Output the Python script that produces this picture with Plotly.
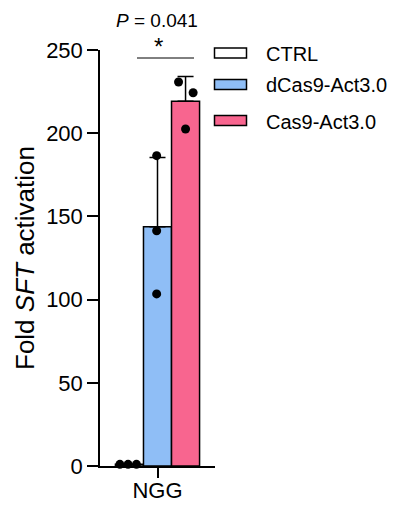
import numpy as np
import plotly.graph_objects as go

# ---- data ----
groups = ["CTRL", "dCas9-Act3.0", "Cas9-Act3.0"]
category = ["NGG"]
ctrl_reps = [1.0, 1.0, 1.0]
dcas9_reps = [186.5, 141.4, 103.4]
cas9_reps = [230.8, 224.3, 202.5]
p_label = "0.041"
y_ticks = [0, 50, 100, 150, 200, 250]

# ---- style ----
colors = ["#FFFFFF", "#8FBEF6", "#F8658F"]
jitter = [[-0.34, -0.05, 0.25], [-0.03, -0.03, -0.03], [-0.25, 0.27, 0.0]]
FONT = "Liberation Sans, Arial, sans-serif"

reps = [ctrl_reps, dcas9_reps, cas9_reps]
means = [float(np.mean(r)) for r in reps]
sds = [float(np.std(r, ddof=1)) for r in reps]
pos = list(np.arange(len(groups)) - (len(groups) - 1) / 2)

fig = go.Figure()
for i, g in enumerate(groups):
    fig.add_trace(go.Bar(
        x=[pos[i]], y=[means[i]], width=1.0, name=g,
        marker=dict(color=colors[i], line=dict(color="black", width=1.5)),
        error_y=dict(type="data", symmetric=False, array=[sds[i]], arrayminus=[0],
                     color="black", thickness=1.5, width=8, visible=sds[i] > 0),
        showlegend=False,
    ))
for i, g in enumerate(groups):
    fig.add_trace(go.Scatter(
        x=[pos[i] + j for j in jitter[i]], y=reps[i], mode="markers",
        marker=dict(color="black", size=9), cliponaxis=False, showlegend=False,
    ))

# page body has an 8px margin; compensate so the figure lands at the window origin
OFF = 8
WIN_W, WIN_H = 400, 505
X0, X1, Y0, Y1 = 100, 215, 50, 466   # plot area in window pixels
W, H = WIN_W - OFF, WIN_H - OFF

def px(x):
    return (x - X0) / (X1 - X0)

def py(y):
    return (Y1 - y) / (Y1 - Y0)

shapes = []
annotations = []
# significance bracket
shapes.append(dict(type="line", xref="paper", yref="paper", x0=px(137), x1=px(194),
                   y0=py(58), y1=py(58), line=dict(color="black", width=1)))
annotations.append(dict(xref="paper", yref="paper", x=px(158), y=py(47), text="*",
                        showarrow=False, font=dict(family=FONT, size=24, color="black"),
                        xanchor="center", yanchor="middle"))
annotations.append(dict(xref="paper", yref="paper", x=px(157), y=py(20),
                        text="<i>P</i> = " + p_label, showarrow=False,
                        font=dict(family=FONT, size=19, color="black"),
                        xanchor="center", yanchor="middle"))
# custom legend
leg_y = [53, 84.5, 120.5]
for i, g in enumerate(groups):
    shapes.append(dict(type="rect", xref="paper", yref="paper",
                       x0=px(214.5), x1=px(246.5), y0=py(leg_y[i] + 5), y1=py(leg_y[i] - 5),
                       fillcolor=colors[i], line=dict(color="black", width=1.5)))
    annotations.append(dict(xref="paper", yref="paper", x=px(264), y=py(leg_y[i] + 1),
                            text=g, showarrow=False, xanchor="left", yanchor="middle",
                            font=dict(family=FONT, size=20, color="black")))

fig.update_layout(
    template="none",
    width=W, height=H,
    margin=dict(l=X0 - OFF, r=WIN_W - X1, t=Y0 - OFF, b=WIN_H - Y1, pad=0, autoexpand=False),
    paper_bgcolor="white", plot_bgcolor="white",
    font=dict(family=FONT, color="black"),
    shapes=shapes, annotations=annotations,
    showlegend=False,
)
fig.update_xaxes(
    automargin=False,
    range=[-2.05, 2.05], showgrid=False, zeroline=False,
    showline=True, linecolor="black", linewidth=1.5,
    tickmode="array", tickvals=[float(np.mean(pos))], ticktext=category,
    ticks="outside", ticklen=10, tickwidth=1.5, tickcolor="black",
    ticklabelstandoff=-6,
    tickfont=dict(family=FONT, size=22, color="black"),
)
fig.update_yaxes(
    automargin=False,
    range=[0, 250], showgrid=False, zeroline=False,
    showline=True, linecolor="black", linewidth=1.5,
    tickmode="array", tickvals=y_ticks,
    ticks="outside", ticklen=11, tickwidth=1.5, tickcolor="black",
    tickfont=dict(family=FONT, size=22, color="black"),
    title=dict(text="Fold <i>SFT</i> activation", standoff=4,
               font=dict(family=FONT, size=26, color="black")),
)

fig.write_html("out.html")
